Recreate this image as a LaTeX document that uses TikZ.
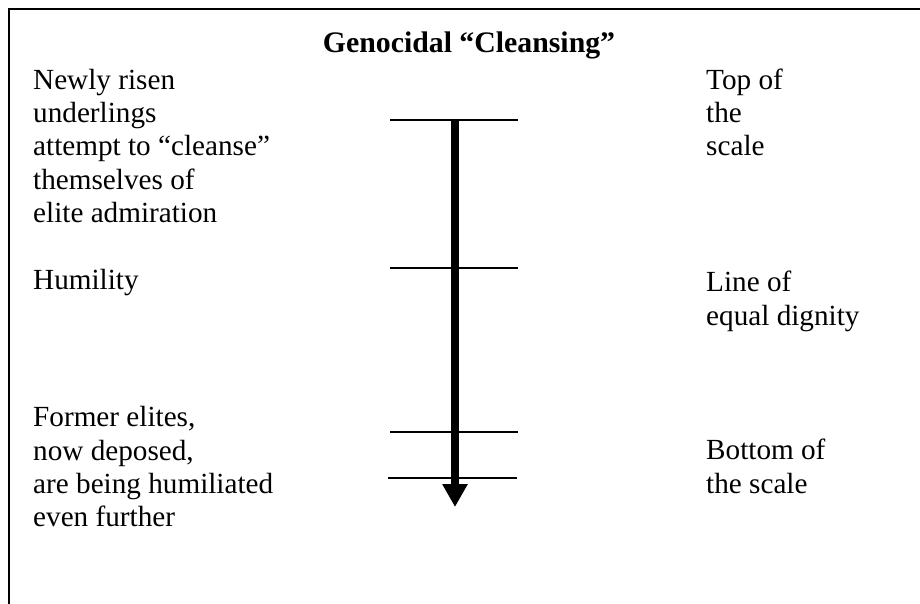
\documentclass[tikz,border=0pt]{standalone}
\usepackage{fontspec}
\setmainfont{Liberation Serif}
\usepackage{tikz}
\usetikzlibrary{arrows.meta,positioning}

\begin{document}
\begin{tikzpicture}[x=1pt, y=-1pt,
    lbl/.style={anchor=base west, inner sep=0pt, align=left,
        font=\fontsize{29.2}{33.3}\selectfont},
    tick/.style={line width=1.5pt},
    scalearrow/.style={line width=8pt, -{Triangle[width=24pt,length=23pt]}}]
    \useasboundingbox (0,0) rectangle (920,604);
    \clip (0,0) rectangle (920,604);

    % Frame
    \draw[line width=2pt] (9,620) -- (9,9) -- (940,9);

    % Title
    \node[anchor=base, inner sep=0pt, font=\fontsize{29.8}{33.3}\selectfont\bfseries]
        (title) at (469,53) {Genocidal ``Cleansing''};

    % Left labels (placed at the baseline of their last line)
    \node[lbl] (risen) at (33,222.5) {Newly risen\\underlings\\attempt to ``cleanse''\\themselves of\\elite admiration};
    \node[lbl] (humility) at (33,289) {Humility};
    \node[lbl] (former) at (33,526.7) {Former elites,\\now deposed,\\are being humiliated\\even further};

    % Right labels
    \node[lbl] (top) at (706,156) {Top of\\the\\scale};
    \node[lbl] (equal) at (706,325) {Line of\\equal dignity};
    \node[lbl] (bottom) at (706,493) {Bottom of\\the scale};

    % Ticks
    \draw[tick] (390,120) -- (518,120);
    \draw[tick] (390,268) -- (518,268);
    \draw[tick] (390,432) -- (518,432);
    \draw[tick] (388,478) -- (517,478);

    % Arrow
    \coordinate (start) at (455,121);
    \coordinate (tip) at (455,507);
    \draw[scalearrow] (start) -- (tip);
\end{tikzpicture}
\end{document}
